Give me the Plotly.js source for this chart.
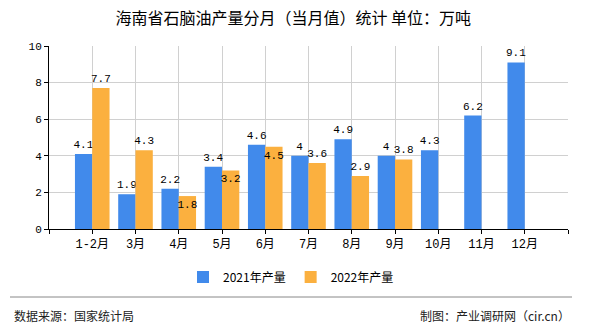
<!DOCTYPE html>
<html>
<head>
<meta charset="utf-8">
<script src="https://cdn.plot.ly/plotly-3.0.1.min.js"></script>
<style>html,body{margin:0;padding:0;background:#fff;}#chart{width:590px;height:330px;}</style>
</head>
<body>
<div id="chart"></div>
<script>
const categories = ['1-2月','3月','4月','5月','6月','7月','8月','9月','10月','11月','12月'];
const output2021 = [4.1, 1.9, 2.2, 3.4, 4.6, 4, 4.9, 4, 4.3, 6.2, 9.1];
const output2022 = [7.7, 4.3, 1.8, 3.2, 4.5, 3.6, 2.9, 3.8];
const seriesNames = ['2021年产量', '2022年产量'];
const pos2022 = ['outside','outside','inside','inside','inside','outside','outside','outside'];

const W = 590, H = 330, L = 49, R = 22, T = 46, B = 101;
const pw = W - L - R, ph = H - T - B;
const px = x => (x - L) / pw;
const py = y => (H - B - y) / ph;

const monoCJK = '"Liberation Mono", "Noto Sans CJK SC", monospace';
const cjk = '"Noto Sans CJK SC", sans-serif';

const xs1 = output2021.map((_, i) => i);
const xs2 = output2022.map((_, i) => i);

const traces = [
  {type:'bar', name:seriesNames[0], x:xs1, y:output2021, marker:{color:'#418aeb'},
   text:output2021.map(String), textposition:'outside', textangle:0, constraintext:'none', cliponaxis:false,
   textfont:{family:monoCJK, size:11, color:'#000'}, hoverinfo:'none'},
  {type:'bar', name:seriesNames[1], x:xs2, y:output2022, marker:{color:'#fbb03f'},
   text:output2022.map(String), textposition:pos2022, insidetextanchor:'end', textangle:0, constraintext:'none', cliponaxis:false,
   textfont:{family:monoCJK, size:11, color:'#000'}, hoverinfo:'none'}
];

const tickvals = [-1].concat(categories.map((_, i) => i), [categories.length]);
const ticktext = [''].concat(categories, ['']);

const layout = {
  width:W, height:H,
  margin:{l:L, r:R, t:T, b:B, pad:0},
  paper_bgcolor:'#fff', plot_bgcolor:'#fff',
  title:{text:'海南省石脑油产量分月（当月值）统计 单位：万吨', x:0.497, xanchor:'center', y:1-18/H, yanchor:'middle',
         font:{family:cjk, size:16, color:'#000'}},
  barmode:'group', bargap:0.2, bargroupgap:0,
  showlegend:true,
  legend:{orientation:'h', x:px(291), xanchor:'center', y:py(277), yanchor:'middle',
          font:{family:cjk, size:12, color:'#000'}, itemwidth:30, traceorder:'normal'},
  xaxis:{type:'linear', range:[-1, categories.length], tickvals:tickvals, ticktext:ticktext,
         showgrid:true, gridcolor:'#d0d0d0', gridwidth:1, zeroline:false,
         showline:true, linecolor:'#000', linewidth:1, ticks:'outside', ticklen:4, tickcolor:'#000',
         tickfont:{family:monoCJK, size:12, color:'#000'}, fixedrange:true},
  yaxis:{range:[0,10], dtick:2, showgrid:true, gridcolor:'#d0d0d0', gridwidth:1, zeroline:false,
         showline:true, linecolor:'#000', linewidth:1, ticks:'outside', ticklen:4, tickcolor:'#000',
         tickfont:{family:monoCJK, size:11, color:'#000'}, fixedrange:true},
  shapes:[
    {type:'line', xref:'paper', yref:'paper', x0:px(10), x1:px(572), y0:py(297), y1:py(297),
     line:{color:'#888', width:1}}
  ],
  annotations:[
    {xref:'paper', yref:'paper', x:px(12), y:py(315), xanchor:'left', yanchor:'middle', showarrow:false,
     text:'数据来源：国家统计局', font:{family:cjk, size:12, color:'#222'}},
    {xref:'paper', yref:'paper', x:px(572), y:py(315), xanchor:'right', yanchor:'middle', showarrow:false,
     text:'制图：产业调研网（cir.cn）', font:{family:cjk, size:12, color:'#222'}}
  ]
};

Plotly.newPlot('chart', traces, layout, {displayModeBar:false, staticPlot:true});
</script>
</body>
</html>
